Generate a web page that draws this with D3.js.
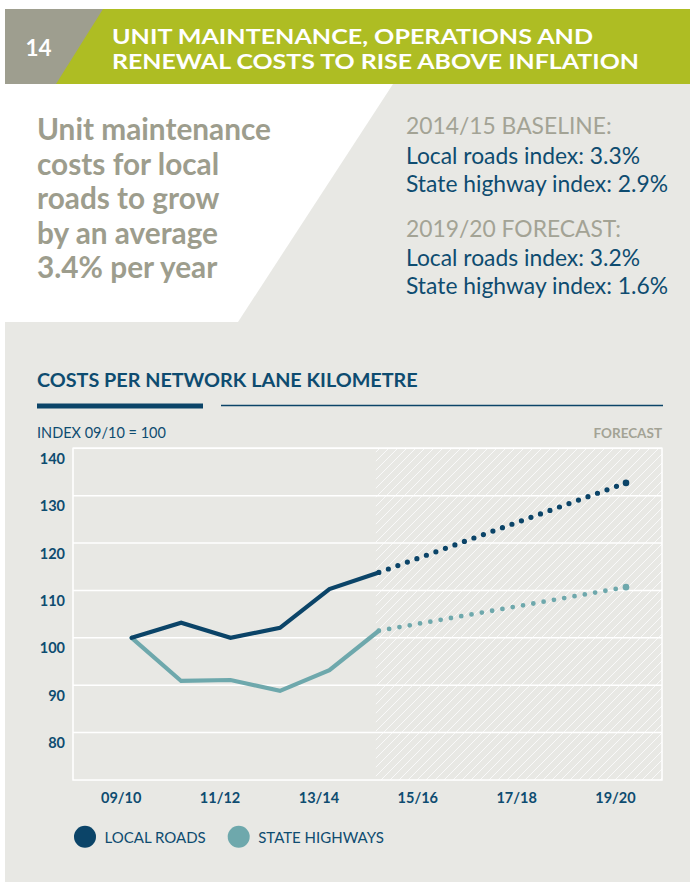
<!DOCTYPE html>
<html>
<head>
<meta charset="utf-8">
<script src="https://cdn.jsdelivr.net/npm/d3@7"></script>
<style>
  html, body { margin: 0; padding: 0; background: #ffffff; }
  svg { display: block; }
  text { font-family: Lato, "Open Sans", sans-serif; }
</style>
</head>
<body>
<svg id="chart" width="690" height="883"></svg>
<script>
// ---------- DATA ----------
const years = ["09/10","10/11","11/12","12/13","13/14","14/15","15/16","16/17","17/18","18/19","19/20"];
const tickLabels = ["09/10","11/12","13/14","15/16","17/18","19/20"];
const yTicks = [80, 90, 100, 110, 120, 130, 140];

const localYears = ["09/10","10/11","11/12","12/13","13/14","14/15"];
const localValues = [100, 103.2, 100.0, 102.1, 110.3, 113.8];
const stateValues = [100, 90.9, 91.1, 88.8, 93.2, 101.5];

const forecastYears = ["14/15","19/20"];
const localForecast = [113.8, 132.7];
const stateForecast = [101.5, 110.7];

const seriesNames = ["LOCAL ROADS", "STATE HIGHWAYS"];

const headerNumber = "14";
const headerLines = ["UNIT MAINTENANCE, OPERATIONS AND", "RENEWAL COSTS TO RISE ABOVE INFLATION"];
const leadLines = ["Unit maintenance", "costs for local", "roads to grow", "by an average", "3.4% per year"];
const statLines = [
  {t: "2014/15 BASELINE:", kind: "label"},
  {t: "Local roads index: 3.3%", kind: "value"},
  {t: "State highway index: 2.9%", kind: "value"},
  {t: "2019/20 FORECAST:", kind: "label"},
  {t: "Local roads index: 3.2%", kind: "value"},
  {t: "State highway index: 1.6%", kind: "value"}
];
const chartTitle = "COSTS PER NETWORK LANE KILOMETRE";
const indexNote = "INDEX 09/10 = 100";
const forecastNote = "FORECAST";

// ---------- STYLE ----------
const C = {
  bg: "#e8e8e4",
  green: "#aebd23",
  headGray: "#9e9e8f",
  leadGray: "#9d9d8d",
  statGray: "#a3a395",
  navy: "#0b4468",
  navyText: "#0e4c70",
  teal: "#6ea8ac",
  white: "#ffffff"
};

const svg = d3.select("#chart");

// scale a group of texts so that a reference text gets the target width
function fitSize(sel, refNode, target, base) {
  const w = refNode.getComputedTextLength();
  const s = base * target / w;
  sel.attr("font-size", s);
  return s;
}

// ---------- BACKGROUNDS ----------
svg.append("rect").attr("x", 0).attr("y", 0).attr("width", 690).attr("height", 883).attr("fill", "#ffffff");
svg.append("polygon")
  .attr("points", "393,84 690,84 690,322 238,322")
  .attr("fill", C.bg);
svg.append("rect").attr("x", 5).attr("y", 322).attr("width", 685).attr("height", 560).attr("fill", C.bg);

// header band
svg.append("rect").attr("x", 5).attr("y", 9).attr("width", 685).attr("height", 75).attr("fill", C.green);
svg.append("polygon").attr("points", "5,9 103,9 56,84 5,84").attr("fill", C.headGray);
svg.append("text").attr("x", 38.5).attr("y", 56).attr("text-anchor", "middle")
  .attr("font-family", "Roboto, sans-serif")
  .attr("font-size", 22.5).attr("font-weight", 700).attr("fill", C.white).text(headerNumber);
svg.append("g").selectAll("text").data(headerLines).join("text")
  .attr("x", 112).attr("y", (d, i) => 43.5 + i * 25)
  .attr("font-family", "Roboto, sans-serif")
  .attr("font-size", 21.3).attr("font-weight", 700).attr("fill", C.white)
  .attr("textLength", (d, i) => i === 0 ? 481 : 527).attr("lengthAdjust", "spacingAndGlyphs")
  .text(d => d);

// lead text
const lead = svg.append("g").selectAll("text").data(leadLines).join("text")
  .attr("x", 37).attr("y", (d, i) => 140 + i * 34.5)
  .attr("font-family", "'Open Sans', sans-serif")
  .attr("font-size", 24).attr("font-weight", 700).attr("fill", C.leadGray)
  .text(d => d);
fitSize(lead, lead.nodes()[0], 234, 24);

// stats
const statY = [133.5, 163.5, 191.5, 236.5, 265.5, 293.5];
const stats = svg.append("g").selectAll("text").data(statLines).join("text")
  .attr("x", 406).attr("y", (d, i) => statY[i])
  .attr("font-family", "'Open Sans', sans-serif")
  .attr("font-size", 21).attr("font-weight", 400)
  .attr("fill", d => d.kind === "label" ? C.statGray : C.navyText)
  .text(d => d.t);
fitSize(stats, stats.nodes()[2], 262, 21);

// ---------- CHART TITLE ----------
const title = svg.append("text").attr("x", 37).attr("y", 387)
  .attr("font-family", "'Open Sans', sans-serif")
  .attr("font-size", 18.5).attr("font-weight", 700)
  .attr("fill", C.navyText).text(chartTitle);
fitSize(title, title.node(), 381, 18.5);
svg.append("line").attr("x1", 37).attr("x2", 203).attr("y1", 406).attr("y2", 406)
  .attr("stroke", C.navy).attr("stroke-width", 5);
svg.append("line").attr("x1", 221).attr("x2", 663).attr("y1", 405.5).attr("y2", 405.5)
  .attr("stroke", C.navy).attr("stroke-width", 1.3);
svg.append("text").attr("x", 37).attr("y", 437.5).attr("font-size", 14.5).attr("font-weight", 400)
  .attr("fill", C.navyText).text(indexNote);
svg.append("text").attr("x", 662).attr("y", 437.5).attr("text-anchor", "end")
  .attr("font-size", 13.5).attr("font-weight", 700).attr("fill", C.statGray).text(forecastNote);

// ---------- PLOT ----------
const plot = {left: 73, right: 662, top: 448.3, bottom: 780};
const x = d3.scaleLinear().domain([0, years.length - 1]).range([131.7, 626]);
const xi = yr => x(years.indexOf(yr));
const y = d3.scaleLinear().domain([70, 140]).range([plot.bottom, plot.top]);

// hatch pattern
const defs = svg.append("defs");
const pat = defs.append("pattern").attr("id", "hatch").attr("patternUnits", "userSpaceOnUse")
  .attr("width", 9).attr("height", 9);
pat.append("path").attr("d", "M-2,2 l4,-4 M0,9 l9,-9 M7,11 l4,-4")
  .attr("stroke", "#ffffff").attr("stroke-width", 0.9).attr("stroke-opacity", 0.85);

const fx = xi(forecastYears[0]) - 3;
svg.append("rect").attr("x", fx).attr("y", plot.top).attr("width", plot.right - fx)
  .attr("height", plot.bottom - plot.top).attr("fill", "url(#hatch)");

// gridlines
svg.append("g").selectAll("line").data(yTicks).join("line")
  .attr("x1", plot.left).attr("x2", plot.right)
  .attr("y1", d => y(d)).attr("y2", d => y(d))
  .attr("stroke", C.white).attr("stroke-width", 1.5);
// frame
svg.append("rect").attr("x", plot.left).attr("y", plot.top)
  .attr("width", plot.right - plot.left).attr("height", plot.bottom - plot.top)
  .attr("fill", "none").attr("stroke", C.white).attr("stroke-width", 1.5);

// y axis labels
const yAxis = d3.axisLeft(y).tickValues(yTicks).tickSize(0).tickPadding(0);
const gy = svg.append("g").attr("transform", `translate(65,0)`).call(yAxis);
gy.select(".domain").remove();
gy.selectAll("text")
  .attr("dy", null).attr("y", 15)
  .attr("font-family", "Lato, sans-serif").attr("font-size", 14.5).attr("font-weight", 700)
  .attr("fill", C.navyText);

// x axis labels
const xAxis = d3.axisBottom(x).tickValues(tickLabels.map(t => years.indexOf(t)))
  .tickFormat(i => years[i]).tickSize(0).tickPadding(0);
const gx = svg.append("g").attr("transform", `translate(-11,${plot.bottom})`).call(xAxis);
gx.select(".domain").remove();
gx.selectAll("text")
  .attr("dy", null).attr("y", 23)
  .attr("font-family", "Lato, sans-serif").attr("font-size", 14.5).attr("font-weight", 700)
  .attr("fill", C.navyText);

// lines
const line = d3.line().x(d => xi(d.year)).y(d => y(d.v)).curve(d3.curveLinear);
const localData = localYears.map((yr, i) => ({year: yr, v: localValues[i]}));
const stateData = localYears.map((yr, i) => ({year: yr, v: stateValues[i]}));
const localF = forecastYears.map((yr, i) => ({year: yr, v: localForecast[i]}));
const stateF = forecastYears.map((yr, i) => ({year: yr, v: stateForecast[i]}));

const series = [
  {actual: stateData, fc: stateF, color: C.teal, w: 4.8},
  {actual: localData, fc: localF, color: C.navy, w: 5.2}
];
series.forEach(s => {
  const p = svg.append("path").datum(s.fc).attr("d", line)
    .attr("fill", "none").attr("stroke", s.color).attr("stroke-width", s.w)
    .attr("stroke-linecap", "round");
  const L = p.node().getTotalLength();
  const n = Math.round(L / 10.3);
  p.attr("stroke-dasharray", `0,${L / n}`);
  const end = s.fc[s.fc.length - 1];
  svg.append("circle").attr("cx", xi(end.year)).attr("cy", y(end.v)).attr("r", 3.3).attr("fill", s.color);
  svg.append("path").datum(s.actual).attr("d", line)
    .attr("fill", "none").attr("stroke", s.color).attr("stroke-width", 4.2)
    .attr("stroke-linejoin", "miter").attr("stroke-linecap", "round");
});

// legend
const legendColors = [C.navy, C.teal];
const legendX = [85, 238.7];
const lg = svg.append("g").selectAll("g").data(seriesNames).join("g")
  .attr("transform", (d, i) => `translate(${legendX[i]},836.7)`);
lg.append("circle").attr("r", 11).attr("fill", (d, i) => legendColors[i]);
lg.append("text").attr("x", 19.5).attr("y", 6).attr("font-size", 15).attr("font-weight", 400)
  .attr("fill", C.navyText).text(d => d);
</script>
</body>
</html>
